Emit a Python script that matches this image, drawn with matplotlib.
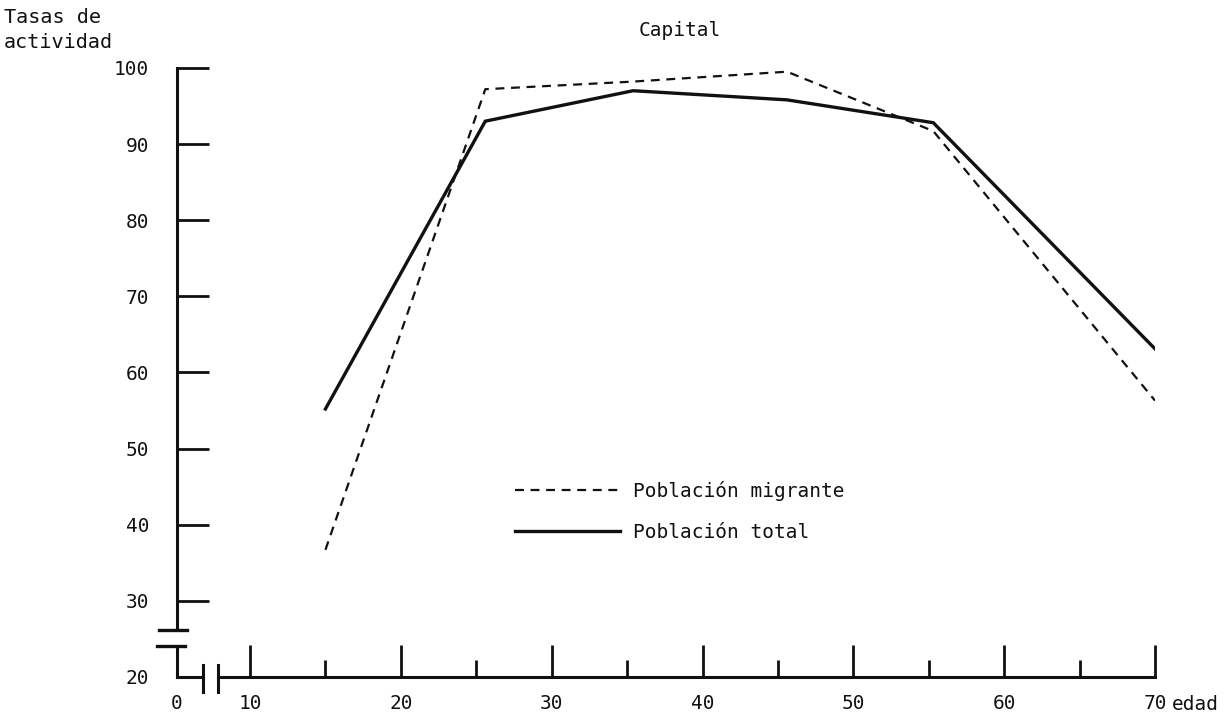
import matplotlib
matplotlib.use("Agg")
import matplotlib.pyplot as plt
from matplotlib.lines import Line2D

# ---- data ----
ages = [15, 25.6, 35.4, 45.6, 55.3, 70]
migrante = [36.7, 97.2, 98.2, 99.5, 91.7, 56.3]
total = [55.2, 93.0, 97.0, 95.8, 92.8, 63.1]
series_labels = ["Población migrante", "Población total"]
yticks = [20, 30, 40, 50, 60, 70, 80, 90, 100]
xticks_major = [10, 20, 30, 40, 50, 60, 70]
xticks_minor = [15, 25, 35, 45, 55, 65]
title = "Capital"
ylabel = "Tasas de\nactividad"
xlabel = "edad"

FONT = ["DejaVu Sans Mono", "DejaVu Sans"]
plt.rcParams["font.family"] = FONT
INK = "#111111"

W, H = 1225, 723
fig = plt.figure(figsize=(W / 100, H / 100), dpi=100)

# axes geometry in pixels (axis origin / scale)
x0_px, x1_px = 177, 1155
y_bottom_px = 677
ax = fig.add_axes([x0_px / W, (H - y_bottom_px) / H, (x1_px - x0_px) / W, y_bottom_px / H])
ax.set_facecolor("none")
fig.patch.set_facecolor("white")

x_left = 5.16           # position of the broken-axis "0"
ax.set_xlim(x_left, 70)
ax.set_ylim(20, 20 + y_bottom_px / 7.614)

# data lines
ax.plot(ages, migrante, color=INK, lw=1.6, linestyle=(0, (4, 3)), solid_capstyle="butt")
ax.plot(ages, total, color=INK, lw=2.4, solid_joinstyle="miter")

# spines
for s in ["top", "right"]:
    ax.spines[s].set_visible(False)
ax.spines["left"].set_linewidth(2.2)
ax.spines["bottom"].set_linewidth(2.2)
ax.spines["left"].set_color(INK)
ax.spines["bottom"].set_color(INK)
ax.spines["left"].set_bounds(26.2, 100)
ax.spines["bottom"].set_bounds(7.9, 70)

# broken-axis pieces
ax.plot([x_left, x_left], [20, 24.1], color=INK, lw=2.2, clip_on=False)
ax.plot([x_left, 6.88], [20, 20], color=INK, lw=2.2, clip_on=False)
tb = ax.get_yaxis_transform()
ax.plot([-0.018, 0.010], [26.2, 26.2], transform=tb, color=INK, lw=2.4, clip_on=False)
ax.plot([-0.020, 0.008], [24.1, 24.1], transform=tb, color=INK, lw=2.4, clip_on=False)
tx = ax.get_xaxis_transform()
for xb in (6.88, 7.88):
    ax.plot([xb, xb], [-0.022, 0.018], transform=tx, color=INK, lw=2.2, clip_on=False)

# y ticks
ax.set_yticks(yticks)
ax.set_yticklabels([str(v) for v in yticks])
ax.tick_params(axis="y", direction="in", length=23, width=2.0, pad=20,
               labelsize=14, colors=INK)
ax.yaxis.get_major_ticks()[0].tick1line.set_visible(False)

# x ticks
ax.set_xticks([x_left] + xticks_major)
ax.set_xticklabels(["0"] + [str(v) for v in xticks_major])
ax.set_xticks(xticks_minor, minor=True)
ax.tick_params(axis="x", which="major", direction="in", length=23, width=2.0,
               pad=12, labelsize=14, colors=INK)
ax.tick_params(axis="x", which="minor", direction="in", length=12, width=2.0,
               colors=INK)
ax.xaxis.get_major_ticks()[0].tick1line.set_visible(False)

# texts
fig.text(680 / W, 1 - 30 / H, title, ha="center", va="center", fontsize=14, color=INK)
fig.text(4 / W, 1 - 30 / H, ylabel, ha="left", va="center", fontsize=14.5,
         color=INK, linespacing=1.35)
fig.text(1195 / W, 1 - 704 / H, xlabel, ha="center", va="center", fontsize=14, color=INK)

# legend
handles = [Line2D([], [], color=INK, lw=1.6, linestyle=(0, (4, 3))),
           Line2D([], [], color=INK, lw=2.4)]
ax.legend(handles, series_labels, loc="center left",
          bbox_to_anchor=(515 / W, 1 - 511.5 / H), bbox_transform=fig.transFigure,
          frameon=False, fontsize=14, handlelength=5.4, handletextpad=0.65,
          labelspacing=1.15, borderpad=0, borderaxespad=0, labelcolor=INK)

fig.savefig("out.png", dpi=100)
